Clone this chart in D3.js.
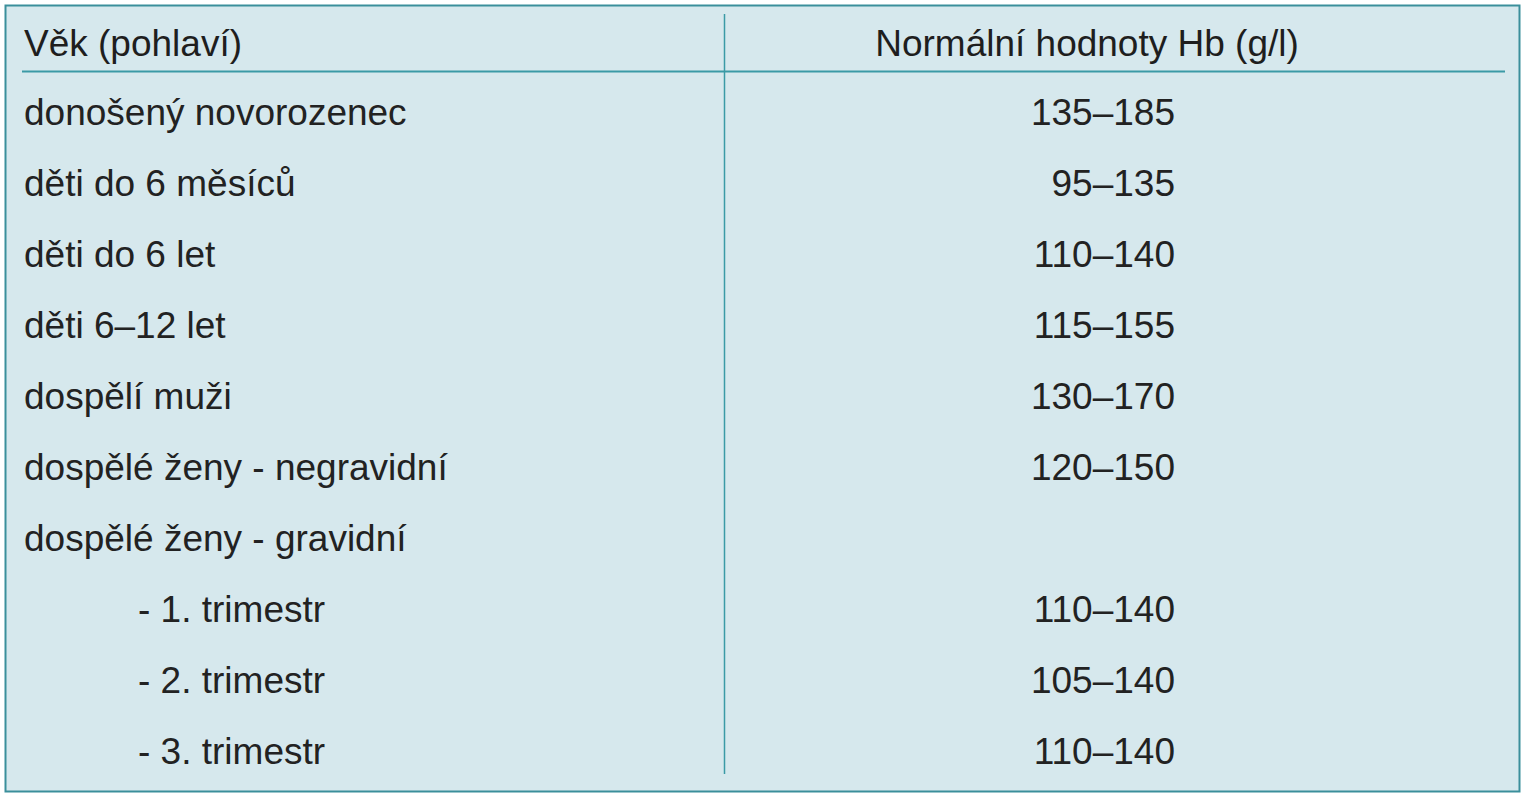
<!DOCTYPE html>
<html><head><meta charset="utf-8">
<script src="https://cdn.jsdelivr.net/npm/d3@7"></script>
<style>body{margin:0;background:#fff}</style></head>
<body><script>
const headers = ["Věk (pohlaví)", "Normální hodnoty Hb (g/l)"];
const categories = ["donošený novorozenec","děti do 6 měsíců","děti do 6 let","děti 6–12 let","dospělí muži","dospělé ženy - negravidní","dospělé ženy - gravidní","- 1. trimestr","- 2. trimestr","- 3. trimestr"];
const indented = [false,false,false,false,false,false,false,true,true,true];
const values = ["135–185","95–135","110–140","115–155","130–170","120–150","","110–140","105–140","110–140"];

const W=1526,H=800;
const svg=d3.select("body").append("svg").attr("width",W).attr("height",H);
const font="'Liberation Sans Narrow','Liberation Sans',Arial,sans-serif";
svg.append("rect").attr("x",5.5).attr("y",5.5).attr("width",1514).attr("height",786)
  .attr("fill","#d6e8ed").attr("stroke","#3b8f9b").attr("stroke-width",2);
const y=d3.scalePoint().domain(d3.range(categories.length)).range([112,751]);
svg.append("line").attr("x1",22).attr("x2",1505).attr("y1",71.5).attr("y2",71.5).attr("stroke","#3b9aa6").attr("stroke-width",2);
svg.append("line").attr("x1",724.5).attr("x2",724.5).attr("y1",14).attr("y2",774).attr("stroke","#3b9aa6").attr("stroke-width",1.5);
svg.append("text").attr("x",24).attr("y",43).attr("dy","0.35em").text(headers[0])
  .attr("font-family",font).attr("font-size",37).attr("font-weight",500).attr("fill","#1e1e1e").attr("textLength",null);
svg.append("text").attr("x",1087).attr("y",43).attr("dy","0.35em").attr("text-anchor","middle").text(headers[1])
  .attr("font-family",font).attr("font-size",37).attr("fill","#1e1e1e");
const g=svg.selectAll("g.row").data(categories).join("g");
g.append("text").attr("x",(d,i)=>indented[i]?138:24).attr("y",(d,i)=>y(i)).attr("dy","0.35em").text(d=>d)
  .attr("font-family",font).attr("font-size",37).attr("fill","#222");
g.append("text").attr("x",1175).attr("y",(d,i)=>y(i)).attr("dy","0.35em").attr("text-anchor","end").text((d,i)=>values[i])
  .attr("font-family",font).attr("font-size",37).attr("fill","#222");
</script></body></html>
